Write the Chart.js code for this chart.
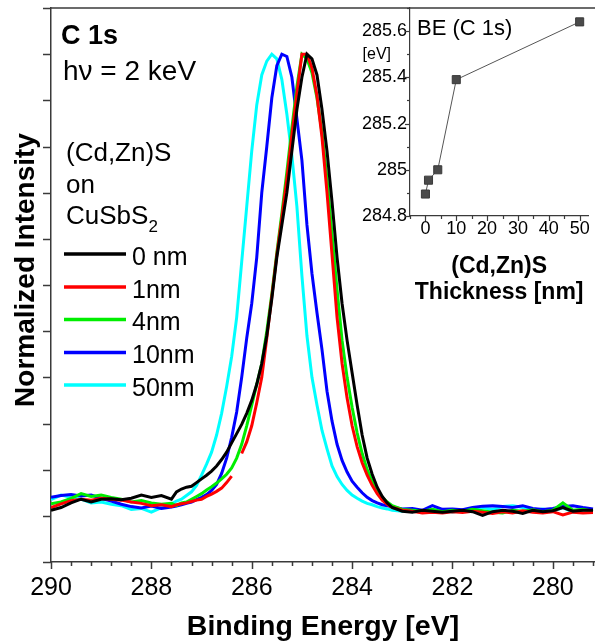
<!DOCTYPE html>
<html><head><meta charset="utf-8">
<script src="https://cdn.jsdelivr.net/npm/chart.js@4.4.1/dist/chart.umd.min.js"></script>
<style>
html,body{margin:0;padding:0;background:#fff;}
#wrap{position:relative;width:595px;height:644px;overflow:hidden;background:#fff;}
#main{position:absolute;left:0;top:0;}
#inset{position:absolute;left:340px;top:0;}
</style></head><body>
<div id="wrap">
<canvas id="main" width="595" height="644"></canvas>
<canvas id="inset" width="255" height="310"></canvas>
</div>
<script>
// ---------- main spectrum data ----------
const energies = [290.0,289.8,289.6,289.4,289.2,289.0,288.8,288.6,288.4,288.2,288.0,287.8,287.6,
287.5,287.4,287.3,287.2,287.1,287.0,286.9,286.8,286.7,286.6,286.5,286.4,286.3,286.2,286.1,286.0,285.9,285.8,285.7,285.6,285.5,285.4,285.3,285.2,285.1,285.0,284.9,284.8,284.7,284.6,284.5,284.4,284.3,284.2,284.1,284.0,283.9,283.8,283.7,283.6,283.5,283.4,283.3,
283.2,283.0,282.8,282.6,282.4,282.2,282.0,281.8,281.6,281.4,281.2,281.0,280.8,280.6,280.4,280.2,280.0,279.8,279.6,279.4,279.2];

const seriesLabels = ['0 nm','1nm','4nm','10nm','50nm'];
const seriesColors = ['#000000','#ff0000','#00ee00','#0000ff','#00ffff'];

const int0nm = [0.012,0.018,0.028,0.036,0.030,0.036,0.037,0.035,0.038,0.045,0.040,0.044,0.036,
0.052,0.058,0.062,0.064,0.072,0.080,0.088,0.097,0.108,0.122,0.138,0.158,0.178,0.198,0.222,0.250,0.285,0.330,0.390,0.470,0.560,0.630,0.700,0.790,0.880,0.950,1.000,0.990,0.955,0.880,0.790,0.680,0.560,0.460,0.380,0.310,0.240,0.175,0.125,0.090,0.062,0.042,0.028,
0.018,0.010,0.008,0.012,0.010,0.008,0.010,0.012,0.009,0.001,0.009,0.012,0.010,0.005,0.012,0.009,0.011,0.018,0.010,0.012,0.012];

const int1nm = [0.018,0.026,0.033,0.036,0.034,0.038,0.036,0.034,0.030,0.027,0.022,0.024,0.020,
0.024,0.026,0.028,0.031,0.034,0.036,0.042,0.047,0.053,0.060,0.072,0.086,null,0.135,0.160,0.195,0.245,0.300,0.385,0.475,0.565,0.645,0.730,0.825,0.915,1.000,1.000,0.970,0.910,0.820,0.700,0.565,0.430,0.330,0.255,0.195,0.150,0.115,0.088,0.066,0.048,0.034,0.025,
0.018,0.012,0.010,0.006,0.008,0.006,0.009,0.007,0.010,0.008,0.005,0.009,0.006,0.011,0.008,0.006,0.009,0.002,0.008,0.006,0.007];

const int4nm = [0.026,0.030,0.038,0.048,0.042,0.045,0.040,0.036,0.030,0.033,0.028,0.025,0.027,
0.022,0.028,0.030,0.036,0.042,0.048,0.056,0.063,0.071,0.080,0.090,0.104,0.125,0.155,0.195,0.240,0.285,0.330,0.400,0.480,0.570,0.655,0.745,0.840,0.930,1.000,0.990,0.960,0.905,0.830,0.730,0.610,0.490,0.380,0.300,0.235,0.180,0.135,0.100,0.075,0.055,0.040,0.030,
0.022,0.014,0.012,0.010,0.014,0.009,0.012,0.010,0.014,0.011,0.008,0.006,0.012,0.010,0.013,0.009,0.012,0.028,0.012,0.014,0.010];

const int10nm = [0.040,0.044,0.046,0.043,0.045,0.038,0.032,0.025,0.020,0.017,0.021,0.016,0.019,
0.021,0.024,0.027,0.030,0.035,0.040,0.046,0.055,0.068,0.092,0.125,0.170,0.225,0.300,0.385,0.460,0.560,0.700,0.800,0.905,0.975,1.000,0.995,0.950,0.860,0.770,0.630,0.525,0.440,0.360,0.270,0.205,0.155,0.120,0.095,0.075,0.062,0.050,0.040,0.033,0.028,0.024,0.022,
0.019,0.015,0.016,0.012,0.022,0.014,0.015,0.013,0.018,0.021,0.022,0.020,0.018,0.022,0.016,0.014,0.016,0.020,0.022,0.018,0.015];

const int50nm = [0.035,0.045,0.040,0.036,0.028,0.030,0.025,0.022,0.014,0.016,0.008,0.018,0.026,
0.032,0.036,0.044,0.052,0.066,0.088,0.112,0.138,0.175,0.222,0.280,0.345,0.430,0.550,0.670,0.790,0.890,0.955,0.985,1.000,0.990,0.945,0.870,0.780,0.670,0.520,0.390,0.300,0.240,0.185,0.145,0.108,0.085,0.068,0.055,0.045,0.038,0.032,0.027,0.024,0.020,0.017,0.015,
0.012,0.010,0.013,0.009,0.014,0.011,0.008,0.012,0.016,0.018,0.014,0.020,0.022,0.018,0.012,0.015,0.010,0.018,0.008,0.012,0.010];

const seriesValues = [int0nm, int1nm, int4nm, int10nm, int50nm];

// main axis ticks
const xMajorTicks = [290, 288, 286, 284, 282, 280];
const xMinorStep = 0.4;

// ---------- inset data ----------
const thickness = [0, 1, 4, 10, 50];
const bindingEnergy = [284.895, 284.955, 285.0, 285.39, 285.64];
const insetXLabels = [0, 10, 20, 30, 40, 50];
const insetYLabels = [284.8, 285.0, 285.2, 285.4, 285.6];

// ---------- helpers ----------
const FONT = "'Liberation Sans', Arial, Helvetica, sans-serif";
const AXIS = '#3a3a3a';
const near = (a, list) => list.some(b => Math.abs(a - b) < 1e-6);
const noPad = s => { s.paddingLeft = 0; s.paddingRight = 0; s.paddingTop = 0; s.paddingBottom = 0; };

const xTickValues = [];
for (let k = 0; 290 - k * xMinorStep >= 279.16; k++) xTickValues.push(Math.round((290 - k * xMinorStep) * 10) / 10);
const yTickValues = [];
for (let k = 0; k <= 12; k++) yTickValues.push(Math.round((-0.1 + k * 0.1) * 10) / 10);

const mainDecor = {
  id: 'mainDecor',
  afterDraw(chart) {
    const ctx = chart.ctx, ca = chart.chartArea;
    const xs = chart.scales.x, ys = chart.scales.y;
    ctx.save();
    ctx.strokeStyle = AXIS; ctx.lineWidth = 1.5;
    // top frame
    ctx.beginPath(); ctx.moveTo(ca.left, ca.top); ctx.lineTo(ca.right, ca.top); ctx.stroke();
    // x ticks
    xTickValues.forEach(v => {
      const px = Math.round(xs.getPixelForValue(v)) + 0.5;
      const len = near(v, xMajorTicks) ? 7 : 4;
      ctx.beginPath(); ctx.moveTo(px, ca.bottom); ctx.lineTo(px, ca.bottom + len); ctx.stroke();
    });
    // y ticks
    yTickValues.forEach(v => {
      const py = Math.round(ys.getPixelForValue(v)) + 0.5;
      ctx.beginPath(); ctx.moveTo(ca.left, py); ctx.lineTo(ca.left - 8, py); ctx.stroke();
    });
    // y axis title
    ctx.fillStyle = '#000';
    ctx.save();
    ctx.translate(26, 270); ctx.rotate(-Math.PI / 2);
    ctx.font = 'bold 28px ' + FONT; ctx.textAlign = 'center'; ctx.textBaseline = 'middle';
    ctx.fillText('Normalized Intensity', 0, 0);
    ctx.restore();
    // annotations
    ctx.textBaseline = 'alphabetic'; ctx.textAlign = 'left';
    ctx.font = 'bold 27px ' + FONT; ctx.fillText('C 1s', 61, 44);
    ctx.font = '28px ' + FONT; ctx.fillText('h\u03BD = 2 keV', 63, 80);
    ctx.font = '26px ' + FONT;
    ctx.fillText('(Cd,Zn)S', 66, 161);
    ctx.fillText('on', 66, 193);
    ctx.fillText('CuSbS', 66, 224);
    const w = ctx.measureText('CuSbS').width;
    ctx.font = '17px ' + FONT; ctx.fillText('2', 66 + w, 232);
    // legend
    const rows = [254, 287, 319.5, 352.5, 385];
    chart.data.datasets.forEach((ds, i) => {
      ctx.strokeStyle = ds.borderColor; ctx.lineWidth = 3.5;
      ctx.beginPath(); ctx.moveTo(64, rows[i]); ctx.lineTo(126, rows[i]); ctx.stroke();
      ctx.font = '25px ' + FONT; ctx.fillStyle = '#000';
      ctx.fillText(ds.label, 132, rows[i] + 10.5);
    });
    ctx.restore();
  }
};

new Chart(document.getElementById('main'), {
  type: 'line',
  data: {
    datasets: seriesLabels.map((lab, k) => ({
      label: lab,
      data: energies.map((e, i) => ({ x: e, y: seriesValues[k][i] })),
      borderColor: seriesColors[k],
      borderWidth: 3,
      pointRadius: 0,
      tension: 0,
      spanGaps: false,
      fill: false
    }))
  },
  options: {
    responsive: false, animation: false, events: [],
    layout: { padding: { top: 8, right: 0, left: 0, bottom: 0 } },
    plugins: { legend: { display: false }, tooltip: { enabled: false } },
    scales: {
      x: {
        type: 'linear', reverse: true, min: 279.16, max: 290,
        afterBuildTicks: s => { s.ticks = xTickValues.map(v => ({ value: v })); },
        afterFit: s => { s.height = 82; noPad(s); },
        grid: { display: false, drawTicks: false },
        border: { display: true, color: AXIS, width: 1.5 },
        ticks: {
          padding: 11, autoSkip: false, maxRotation: 0, color: '#000',
          font: { family: FONT, size: 25 },
          callback: v => near(v, xMajorTicks) ? String(Math.round(v)) : ''
        },
        title: { display: true, text: 'Binding Energy [eV]', color: '#000',
          font: { family: FONT, size: 28.5, weight: 'bold' }, padding: { top: 0, bottom: 0 } }
      },
      y: {
        type: 'linear', min: -0.1, max: 1.1,
        afterFit: s => { s.width = 51; noPad(s); },
        grid: { display: false, drawTicks: false },
        border: { display: true, color: AXIS, width: 1.5 },
        ticks: { display: false, stepSize: 0.1 },
        title: { display: false }
      }
    }
  },
  plugins: [mainDecor]
});

// ---------- inset ----------
const insetXTickValues = [-5, 0, 5, 10, 15, 20, 25, 30, 35, 40, 45, 50];
const insetYTickValues = [284.8, 284.9, 285.0, 285.1, 285.2, 285.3, 285.4, 285.5, 285.6, 285.7];

const insetDecor = {
  id: 'insetDecor',
  afterDraw(chart) {
    const ctx = chart.ctx, ca = chart.chartArea;
    const xs = chart.scales.x, ys = chart.scales.y;
    ctx.save();
    ctx.strokeStyle = AXIS; ctx.lineWidth = 1.2;
    insetXTickValues.forEach(v => {
      const px = Math.round(xs.getPixelForValue(v)) + 0.5;
      const len = near(v, insetXLabels) ? 5 : 3;
      ctx.beginPath(); ctx.moveTo(px, ca.bottom); ctx.lineTo(px, ca.bottom + len); ctx.stroke();
    });
    insetYTickValues.forEach(v => {
      const py = Math.round(ys.getPixelForValue(v)) + 0.5;
      const len = near(v, insetYLabels) ? 5 : 3;
      ctx.beginPath(); ctx.moveTo(ca.left, py); ctx.lineTo(ca.left - len, py); ctx.stroke();
    });
    ctx.fillStyle = '#000';
    ctx.font = '16px ' + FONT; ctx.textAlign = 'right'; ctx.textBaseline = 'middle';
    ctx.fillText('[eV]', 51, ys.getPixelForValue(285.5));
    ctx.font = '22px ' + FONT; ctx.textAlign = 'left'; ctx.textBaseline = 'alphabetic';
    ctx.fillText('BE (C 1s)', 77, 35);
    ctx.restore();
  }
};

new Chart(document.getElementById('inset'), {
  type: 'line',
  data: {
    datasets: [{
      data: thickness.map((t, i) => ({ x: t, y: bindingEnergy[i] })),
      borderColor: '#555555', borderWidth: 1,
      pointStyle: 'rect', pointRadius: 5.7,
      pointBackgroundColor: '#4a4a4a', pointBorderColor: '#3a3a3a', pointBorderWidth: 1,
      tension: 0, fill: false
    }]
  },
  options: {
    responsive: false, animation: false, events: [],
    layout: { padding: { top: 8, right: 0, left: 0, bottom: 0 } },
    plugins: { legend: { display: false }, tooltip: { enabled: false } },
    scales: {
      x: {
        type: 'linear', min: -5, max: 52.8,
        afterBuildTicks: s => { s.ticks = insetXTickValues.map(v => ({ value: v })); },
        afterFit: s => { s.height = 94; noPad(s); },
        grid: { display: false, drawTicks: false },
        border: { display: true, color: AXIS, width: 1.2 },
        ticks: { padding: 2, autoSkip: false, maxRotation: 0, color: '#000',
          font: { family: FONT, size: 18 },
          callback: v => near(v, insetXLabels) ? String(v) : '' },
        title: { display: true, text: ['(Cd,Zn)S', 'Thickness [nm]'], color: '#000',
          font: { family: FONT, size: 23, weight: 'bold', lineHeight: '26px' }, padding: { top: 0, bottom: 4 } }
      },
      y: {
        type: 'linear', min: 284.8, max: 285.7,
        afterBuildTicks: s => { s.ticks = insetYTickValues.map(v => ({ value: v })); },
        afterFit: s => { s.width = 70; noPad(s); },
        grid: { display: false, drawTicks: false },
        border: { display: true, color: AXIS, width: 1.2 },
        ticks: { padding: 3, autoSkip: false, color: '#000',
          font: { family: FONT, size: 18 },
          callback: v => near(v, insetYLabels) ? String(Math.round(v * 10) / 10) : '' }
      }
    }
  },
  plugins: [insetDecor]
});
</script>
</body></html>
